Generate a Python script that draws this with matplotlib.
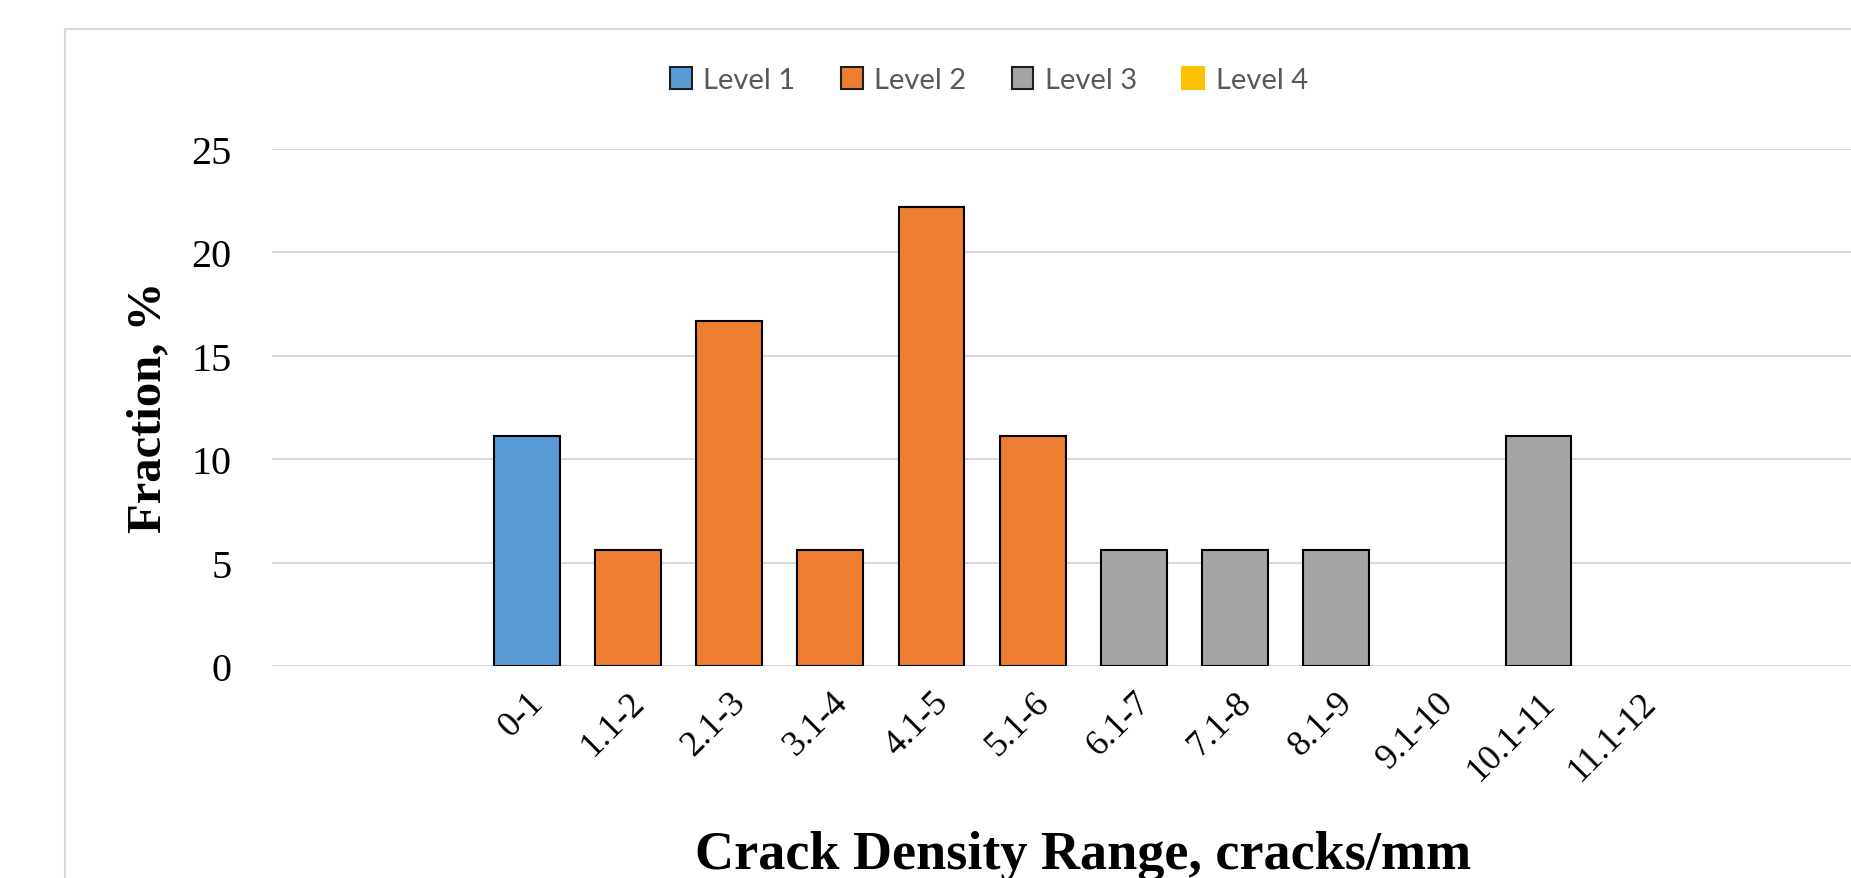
import matplotlib
matplotlib.use("Agg")
import matplotlib.pyplot as plt
from matplotlib.patches import Rectangle, Patch
import numpy as np

categories = ["0-1", "1.1-2", "2.1-3", "3.1-4", "4.1-5", "5.1-6", "6.1-7",
              "7.1-8", "8.1-9", "9.1-10", "10.1-11", "11.1-12"]
level1 = [11.1, 0, 0, 0, 0, 0, 0, 0, 0, 0, 0, 0]
level2 = [0, 5.6, 16.7, 5.6, 22.2, 11.1, 0, 0, 0, 0, 0, 0]
level3 = [0, 0, 0, 0, 0, 0, 5.6, 5.6, 5.6, 0, 11.1, 0]
level4 = [0, 0, 0, 0, 0, 0, 0, 0, 0, 0, 0, 0]
series_names = ["Level 1", "Level 2", "Level 3", "Level 4"]
series_values = [level1, level2, level3, level4]
colors = ["#5B9BD5", "#ED7D31", "#A5A5A5", "#FFC000"]
yticks = [0, 5, 10, 15, 20, 25]

W, H = 1851, 879
fig = plt.figure(figsize=(W / 100, H / 100), dpi=100)
fig.patch.set_facecolor("white")

# outer chart frame (cropped at right/bottom)
fig.patches.append(Rectangle((65 / W, -0.1), 1.2, (H - 30) / H + 0.1,
                             transform=fig.transFigure, fill=False,
                             edgecolor="#d9d9d9", linewidth=1.5))

ax = fig.add_axes([272 / W, (H - 667) / H, 1 - 272 / W, (667 - 150) / H])
x = np.arange(len(categories))
bottom = np.zeros(len(categories))
for name, vals, c in zip(series_names, series_values, colors):
    vals = np.array(vals, dtype=float)
    mask = vals > 0
    ax.bar(x[mask], vals[mask], width=0.65, bottom=bottom[mask], color=c,
           edgecolor="black", linewidth=1.5, zorder=3)
    bottom += vals

ax.set_xlim(-2.52, 13.09)
ax.set_ylim(0, 25)
ax.set_yticks(yticks)
ax.set_yticklabels([str(t) for t in yticks], family="Liberation Serif",
                   fontsize=29)
ax.set_xticks(x)
ax.set_xticklabels(categories, family="Liberation Serif", fontsize=26,
                   rotation=45, ha="right", va="top", rotation_mode="anchor")
ax.tick_params(axis="both", length=0)
ax.tick_params(axis="y", pad=29)
ax.tick_params(axis="x", pad=14)
ax.grid(axis="y", color="#d9d9d9", linewidth=1.5, zorder=0)
for s in ax.spines.values():
    s.set_visible(False)

fig.text(148 / W, 1 - 407 / H, "Fraction, %", rotation=90, ha="center",
         va="center", family="Liberation Serif", fontweight="bold",
         fontsize=35)
fig.text(1083 / W, 1 - 856 / H, "Crack Density Range, cracks/mm",
         ha="center", va="center", family="Liberation Serif",
         fontweight="bold", fontsize=39)

handles = []
for i, (name, c) in enumerate(zip(series_names, colors)):
    ec = "#1f1f1f" if i < 3 else c
    handles.append(Patch(facecolor=c, edgecolor=ec, linewidth=1.5, label=name))
fig.legend(handles=handles, loc="center", bbox_to_anchor=(989 / W, 1 - 81 / H),
           ncol=4, frameon=False, prop={"family": "Lato", "size": 21},
           labelcolor="#595959", handlelength=0.75, handleheight=0.75,
           handletextpad=0.4, columnspacing=1.55)

fig.savefig("out.png", dpi=100, facecolor="white")
